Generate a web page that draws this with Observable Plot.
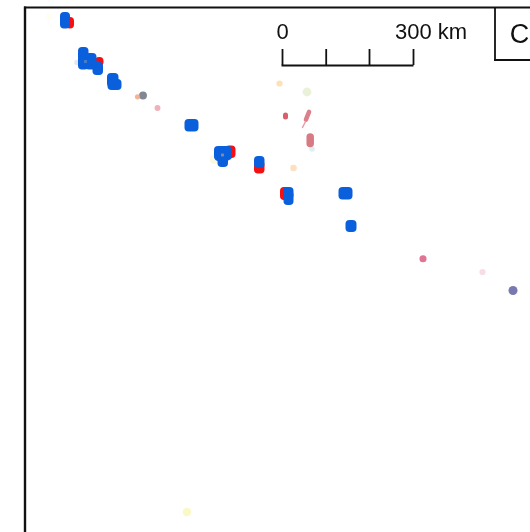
<!DOCTYPE html>
<html><head><meta charset="utf-8">
<style>html,body{margin:0;padding:0;background:#fff;overflow:hidden}svg{display:block;filter:blur(0.55px)}</style>
<script src="https://cdn.jsdelivr.net/npm/d3@7"></script>
<script src="https://cdn.jsdelivr.net/npm/@observablehq/plot@0.6"></script>
</head><body><div id="c"></div>
<script>
// map positions (x east, y south)
const redAreas = [
  [66,17,74,28.5],[95,57,103.5,66],[225,145.5,235.5,158],[254,161,264.5,173.5],[280,187,291,200]
];
const blueAreas = [
  [60,12,70,28.5],[78,47,88.5,69.5],[85,53,96.5,69.5],[92.5,62,103,75],[107,73,118.5,87],[107.5,79,121.5,90],
  [184.5,119,198.5,131.5],[214,146,232,160],[214.5,150,230,161],[217.5,155,228,167],[254,156,264.5,168],[283,187,293.5,199],
  [283.5,191,293.5,205],[338.5,187,352.5,199.5],[345.5,220,356.5,232]
];
const lakeTraces = [
  {a:[308.5,111.5],b:[305.5,119],c:"#dc7f88",w:4.6},
  {a:[305,121],b:[302,127],c:"#e59aa0",w:1.4},
  {a:[309.7,136.5],b:[309.7,143],c:"#d87a84",w:7.5},
  {a:[285,114.5],b:[285,116.5],c:"#d8606c",w:5}
];
const spots = [
  {x:142.5,y:95,c:"#6b7280",r:1.6,o:.85},{x:137,y:96.3,c:"#f0a080",r:.7,o:.8},{x:157,y:107.5,c:"#eeaab0",r:.9,o:.9},
  {x:76.5,y:62,c:"#c8d0e0",r:.8,o:.5},{x:49,y:16,c:"#fbfbd8",r:1.2,o:.3},{x:279,y:83,c:"#fbd9a8",r:1,o:.8},
  {x:306.5,y:91.5,c:"#d8e6b8",r:2,o:.55},{x:311.5,y:148.5,c:"#cfe8ea",r:.8,o:.7},{x:293,y:167.5,c:"#fbd9b0",r:1.1,o:.8},
  {x:213.5,y:159,c:"#f6f3c0",r:2,o:.5},{x:422.5,y:258.3,c:"#dc5a80",r:1.3,o:.85},{x:482,y:271.5,c:"#f3c6d8",r:1,o:.6},
  {x:512.5,y:290,c:"#6a6aa8",r:2.1,o:.9},{x:186.5,y:511.5,c:"#f7f5a5",r:1.8,o:.65}
];
const centreSpots = [[222,154.5,"#8c8c96"],[85,61,"#4f7fc8"]];
const scaleTicks = [282,325.7,369,413];
const scaleLabels = [{x:282,t:"0"},{x:430.5,t:"300 km"}];
const panelLetter = "C";

const ink = "#111";
const chart = Plot.plot({
  width:530,height:532,margin:0,
  x:{domain:[0,530],range:[0,530],axis:null},
  y:{domain:[0,532],range:[0,532],axis:null},
  marks:[
    Plot.dot(spots,{x:"x",y:"y",r:d=>d.r,fill:d=>d.c,fillOpacity:d=>d.o,stroke:"none"}),
    Plot.rect(redAreas,{x1:d=>d[0],y1:d=>d[1],x2:d=>d[2],y2:d=>d[3],fill:"#f40f12",r:4}),
    Plot.rect(blueAreas,{x1:d=>d[0],y1:d=>d[1],x2:d=>d[2],y2:d=>d[3],fill:"#0a5fdc",r:4}),
    Plot.link(lakeTraces,{x1:d=>d.a[0],y1:d=>d.a[1],x2:d=>d.b[0],y2:d=>d.b[1],stroke:d=>d.c,strokeWidth:d=>d.w,strokeLinecap:"round"}),
    Plot.dot(centreSpots,{x:d=>d[0],y:d=>d[1],r:1.6,fill:d=>d[2],symbol:"square",stroke:"none"}),
    // frame
    Plot.ruleX([24.5],{y1:6.5,y2:532,stroke:ink,strokeWidth:2.4}),
    Plot.ruleY([7],{x1:24,x2:530,stroke:ink,strokeWidth:2}),
    // panel letter box
    Plot.ruleX([494.5],{y1:7,y2:60,stroke:ink,strokeWidth:1.8}),
    Plot.ruleY([59.5],{x1:494,x2:530,stroke:ink,strokeWidth:1.8}),
    Plot.text([panelLetter],{x:519,y:34,text:d=>d,fontSize:27,fontFamily:"Liberation Sans",fill:"#111",textAnchor:"middle"}),
    // scale bar
    Plot.ruleY([65],{x1:281.5,x2:413.5,stroke:ink,strokeWidth:1.9}),
    Plot.ruleX(scaleTicks,{y1:49,y2:65,stroke:ink,strokeWidth:1.8}),
    Plot.text(scaleLabels,{x:"x",y:31,text:"t",fontSize:22,fontFamily:"Liberation Sans",fill:"#111",textAnchor:"middle"})
  ]
});
document.getElementById("c").appendChild(chart);
</script></body></html>
